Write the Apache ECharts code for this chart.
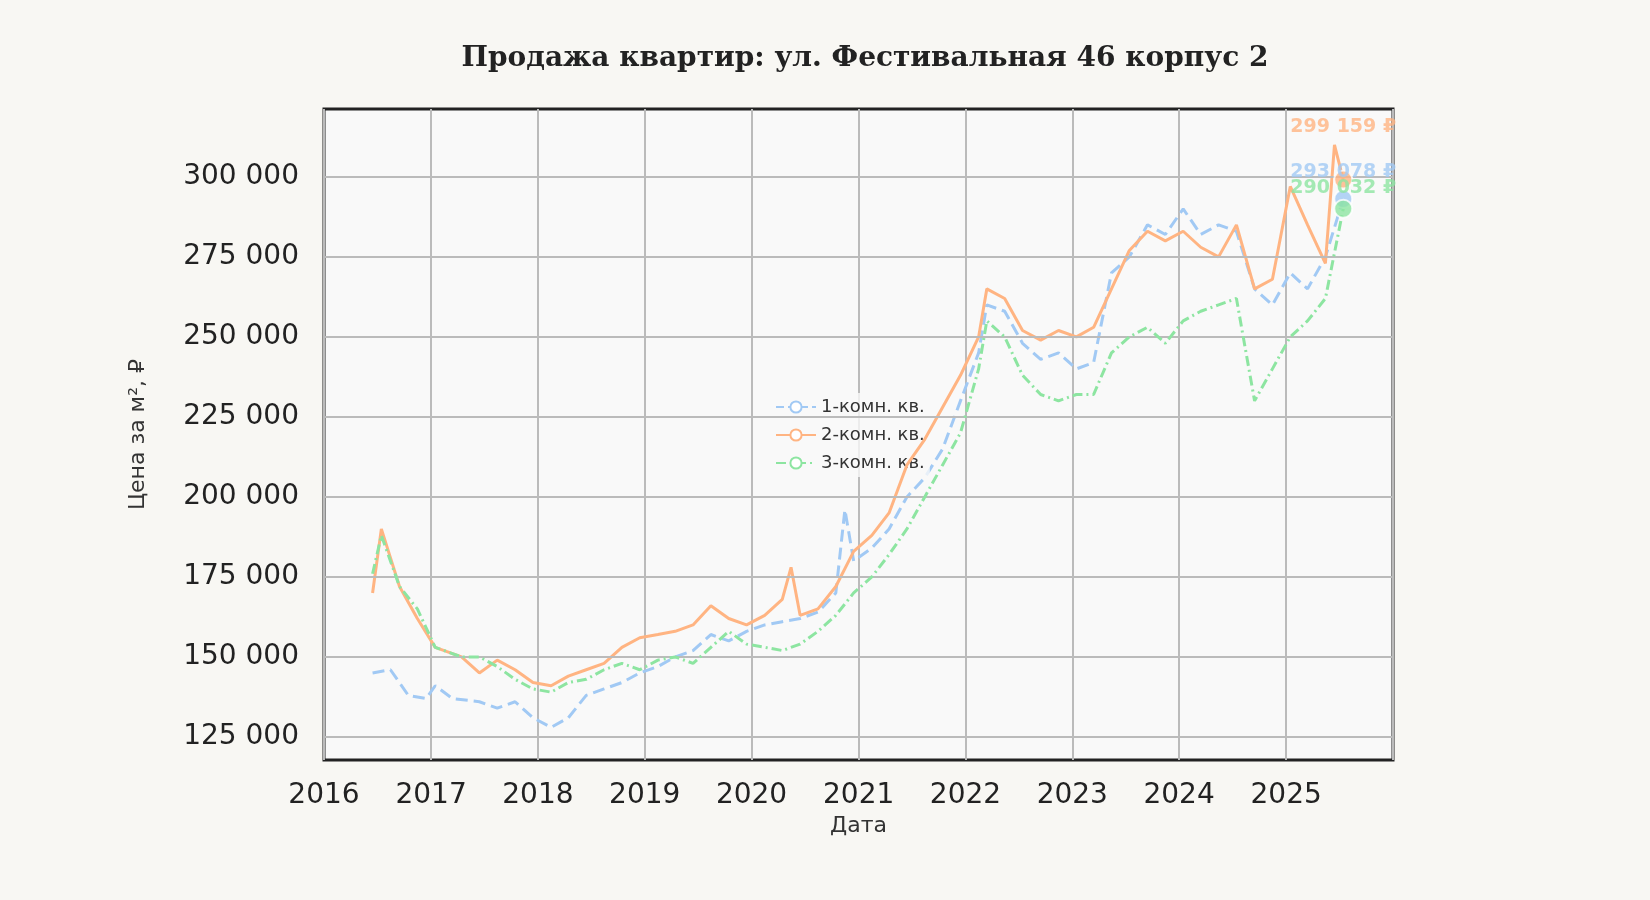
<!DOCTYPE html>
<html><head><meta charset="utf-8">
<script src="https://cdn.jsdelivr.net/npm/echarts@6/dist/echarts.min.js"></script>
<style>body{margin:0;background:#f8f7f3}#c{width:1650px;height:900px}</style>
</head><body><div id="c"></div>
<script>
var names = ['1-комн. кв.', '2-комн. кв.', '3-комн. кв.'];
var colors = ['#a1c9f4', '#ffb482', '#8de5a1'];
var lineTypes = ['dashed', 'solid', [10, 4, 2, 4]];
var endLabels = ['293 078 ₽', '299 159 ₽', '290 032 ₽'];
var yTicks = [125000,150000,175000,200000,225000,250000,275000,300000];

var dates1 = ['2016-06','2016-08','2016-10','2016-12','2017-01','2017-03','2017-06','2017-08','2017-10','2017-12','2018-02','2018-04','2018-06','2018-08','2018-10','2018-12','2019-02','2019-04','2019-06','2019-08','2019-10','2019-12','2020-02','2020-04','2020-06','2020-08','2020-10','2020-11','2020-12','2021-02','2021-04','2021-06','2021-08','2021-10','2021-12','2022-02','2022-03','2022-05','2022-07','2022-09','2022-11','2023-01','2023-03','2023-05','2023-07','2023-09','2023-11','2024-01','2024-03','2024-05','2024-07','2024-09','2024-11','2025-01','2025-03','2025-05','2025-07'];
var values1 = [145000,146000,138000,137000,141000,137000,136000,134000,136000,131000,128000,131000,138000,140000,142000,145000,147000,150000,152000,157000,155000,158000,160000,161000,162000,164000,170000,196000,180000,184000,190000,200000,206000,215000,230000,245000,260000,258000,248000,243000,245000,240000,242000,270000,275000,285000,282000,290000,282000,285000,283000,265000,260000,270000,265000,275000,293078];

var dates2 = ['2016-06','2016-07','2016-09','2016-11','2017-01','2017-04','2017-06','2017-08','2017-10','2017-12','2018-02','2018-04','2018-06','2018-08','2018-10','2018-12','2019-02','2019-04','2019-06','2019-08','2019-10','2019-12','2020-02','2020-04','2020-05','2020-06','2020-08','2020-10','2020-12','2021-02','2021-04','2021-06','2021-08','2021-10','2021-12','2022-02','2022-03','2022-05','2022-07','2022-09','2022-11','2023-01','2023-03','2023-05','2023-07','2023-09','2023-11','2024-01','2024-03','2024-05','2024-07','2024-09','2024-11','2025-01','2025-03','2025-05','2025-06','2025-07'];
var values2 = [170000,190000,172000,162000,153000,150000,145000,149000,146000,142000,141000,144000,146000,148000,153000,156000,157000,158000,160000,166000,162000,160000,163000,168000,178000,163000,165000,172000,183000,188000,195000,210000,218000,228000,238000,250000,265000,262000,252000,249000,252000,250000,253000,265000,277000,283000,280000,283000,278000,275000,285000,265000,268000,297000,285000,273000,310000,299159];

var dates3 = ['2016-06','2016-07','2016-09','2016-11','2017-01','2017-04','2017-06','2017-08','2017-10','2017-12','2018-02','2018-04','2018-06','2018-08','2018-10','2018-12','2019-02','2019-04','2019-06','2019-08','2019-10','2019-12','2020-02','2020-04','2020-06','2020-08','2020-10','2020-12','2021-02','2021-04','2021-06','2021-08','2021-10','2021-12','2022-02','2022-03','2022-05','2022-07','2022-09','2022-11','2023-01','2023-03','2023-05','2023-07','2023-09','2023-11','2024-01','2024-03','2024-05','2024-07','2024-09','2024-11','2025-01','2025-03','2025-05','2025-07'];
var values3 = [176000,188000,172000,165000,153000,150000,150000,147000,143000,140000,139000,142000,143000,146000,148000,146000,149000,150000,148000,153000,158000,154000,153000,152000,154000,158000,163000,170000,175000,182000,190000,200000,210000,220000,240000,255000,250000,238000,232000,230000,232000,232000,245000,250000,253000,248000,255000,258000,260000,262000,230000,240000,250000,255000,262000,290032];

var allDates = [dates1, dates2, dates3];
var allValues = [values1, values2, values3];
var labelOffsets = [[0, -2], [0, -28], [0, 4]];

function pairs(d, v) {
    var out = [];
    for (var i = 0; i < d.length; i++) out.push([d[i] + '-15', v[i]]);
    return out;
}
function fmt(v) { return String(v).replace(/\B(?=(\d{3})+(?!\d))/g, ' '); }

var series = [];
for (var k = 0; k < 3; k++) {
    series.push({
        name: names[k], type: 'line', data: pairs(allDates[k], allValues[k]),
        showSymbol: false, z: 3 + k,
        lineStyle: {color: colors[k], width: 3, type: lineTypes[k]},
        itemStyle: {color: colors[k]}
    });
}
for (var k = 0; k < 3; k++) {
    var n = allDates[k].length - 1;
    series.push({
        type: 'scatter', symbolSize: 18, z: 10,
        data: [[allDates[k][n] + '-15', allValues[k][n]]],
        itemStyle: {color: colors[k], borderColor: '#fff', borderWidth: 2},
        label: {show: true, position: 'top', offset: labelOffsets[k], formatter: endLabels[k],
            color: colors[k], fontWeight: 'bold', fontSize: 19, fontFamily: 'DejaVu Sans'}
    });
}
// horizontal grid lines at round values
series.push({
    type: 'line', data: [], z: 1, markLine: {
        silent: true, symbol: 'none', label: {show: false},
        lineStyle: {color: '#bbb', width: 2, type: 'solid'},
        data: yTicks.map(function(v){ return {yAxis: v}; })
    }
});

var myChart = echarts.init(document.getElementById('c'));
option = {
    backgroundColor: '#f8f7f3',
    title: {
        text: 'Продажа квартир: ул. Фестивальная 46 корпус 2', left: 860, top: 40, textAlign: 'center',
        textStyle: {fontFamily: 'DejaVu Serif', fontWeight: 'bold', fontSize: 28, color: '#222'}
    },
    legend: {
        data: names, orient: 'vertical', left: 770, top: 393, itemWidth: 40, itemGap: 10,
        textStyle: {fontFamily: 'DejaVu Sans', fontSize: 18, color: '#333'},
        backgroundColor: 'rgba(249,249,249,0.8)'
    },
    grid: {left: 324, right: 257, top: 109, bottom: 140, show: true, backgroundColor: '#f9f9f9',
        borderColor: '#222', borderWidth: 3},
    xAxis: {
        type: 'time', min: '2016-01-01', max: '2026-01-01', splitNumber: 10,
        name: 'Дата', nameLocation: 'middle', nameGap: 50,
        nameTextStyle: {fontFamily: 'DejaVu Sans', fontSize: 22, color: '#333'},
        axisLine: {show: false}, axisTick: {show: false},
        axisLabel: {fontFamily: 'DejaVu Sans', fontSize: 28, color: '#222', margin: 22,
            formatter: function(v){ return String(new Date(v).getFullYear()); }},
        splitLine: {show: true, lineStyle: {color: '#bbb', width: 2}}
    },
    yAxis: {
        type: 'value', min: 117800, max: 321200,
        name: 'Цена за м², ₽', nameLocation: 'middle', nameGap: 175,
        nameTextStyle: {fontFamily: 'DejaVu Sans', fontSize: 22, color: '#333'},
        axisLine: {show: false}, axisTick: {show: false},
        axisLabel: {fontFamily: 'DejaVu Sans', fontSize: 28, color: '#222', margin: 25,
            customValues: yTicks, formatter: fmt},
        splitLine: {show: false}
    },
    series: series
};
myChart.setOption(option, true);
</script></body></html>
